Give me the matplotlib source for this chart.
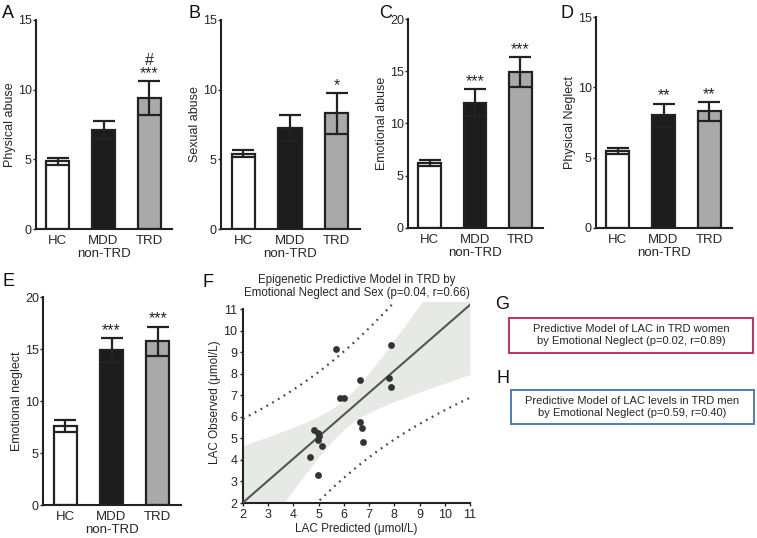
import numpy as np
import matplotlib
matplotlib.use('agg')
import matplotlib.pyplot as plt  # noqa
from matplotlib.patches import Rectangle  # noqa

plt.rcParams['font.family'] = ['Liberation Sans', 'DejaVu Sans']

# Bar panels A-E: mean and SEM per group
groups = ['HC', 'MDD\nnon-TRD', 'TRD']

physical_abuse = [4.85, 7.1, 9.4]
physical_abuse_err = [0.24, 0.65, 1.2]
physical_abuse_marks = ['', '', '#\n***']

sexual_abuse = [5.4, 7.25, 8.3]
sexual_abuse_err = [0.24, 0.9, 1.45]
sexual_abuse_marks = ['', '', '*']

emotional_abuse = [6.2, 12.0, 14.9]
emotional_abuse_err = [0.27, 1.3, 1.45]
emotional_abuse_marks = ['', '***', '***']

physical_neglect = [5.5, 8.0, 8.3]
physical_neglect_err = [0.22, 0.85, 0.68]
physical_neglect_marks = ['', '**', '**']

emotional_neglect = [7.6, 14.9, 15.75]
emotional_neglect_err = [0.55, 1.15, 1.4]
emotional_neglect_marks = ['', '***', '***']

# Panel F: LAC predicted vs observed
lac_predicted = [5.69, 7.86, 6.65, 7.79, 7.86, 5.85, 6.01, 6.62, 6.71,
                 6.74, 4.80, 4.98, 5.00, 4.98, 5.15, 4.67, 4.97]
lac_observed = [9.15, 9.35, 7.71, 7.82, 7.40, 6.89, 6.89, 5.77, 5.46,
                4.84, 5.37, 5.27, 5.12, 4.93, 4.64, 4.13, 3.31]
T_95 = 2.131  # t(0.975, df=15)

W, H = 757, 538
TEXT = '#262626'
EDGE = '#222222'
bar_colors = ['white', '#1c1c1c', '#a9a9a9']


def px_axes(fig, left, right, top, bottom):
    return fig.add_axes([left / W, 1 - bottom / H,
                         (right - left) / W, (bottom - top) / H])


def style_spines(ax, lw=1.5):
    for side in ['top', 'right']:
        ax.spines[side].set_visible(False)
    for side in ['left', 'bottom']:
        ax.spines[side].set_linewidth(lw)
        ax.spines[side].set_color(EDGE)


def bar_panel(ax, values, errors, marks, ylabel, ymax):
    x = np.arange(len(groups))
    ax.bar(x, values, width=0.5, color=bar_colors, edgecolor=EDGE,
           linewidth=1.6, zorder=2)
    ax.errorbar(x, values, yerr=errors, fmt='none', ecolor=EDGE,
                elinewidth=1.6, capsize=8, capthick=1.6, zorder=3)
    for xi, v, e, m in zip(x, values, errors, marks):
        if m:
            ax.text(xi, v + e, m, ha='center', va='bottom',
                    fontsize=11.5, color=TEXT, linespacing=0.85)
    ax.set_xlim(-0.48, 2.5)
    ax.set_ylim(0, ymax)
    ax.set_yticks(np.arange(0, ymax + 1, 5))
    ax.set_xticks(x)
    ax.set_xticklabels(groups)
    ax.tick_params(axis='x', length=0, pad=4, labelsize=9.5, colors=TEXT)
    ax.tick_params(axis='y', length=2, width=1, pad=1, labelsize=9,
                   colors=TEXT)
    ax.set_ylabel(ylabel, fontsize=9, color=TEXT, labelpad=1.5)
    style_spines(ax)


fig = plt.figure(figsize=(W / 100, H / 100), dpi=100)

ax = px_axes(fig, 36, 172, 20, 229)
bar_panel(ax, physical_abuse, physical_abuse_err, physical_abuse_marks,
          'Physical abuse', 15)
ax = px_axes(fig, 221, 360, 20, 229)
bar_panel(ax, sexual_abuse, sexual_abuse_err, sexual_abuse_marks,
          'Sexual abuse', 15)
ax = px_axes(fig, 408, 543, 19, 228)
bar_panel(ax, emotional_abuse, emotional_abuse_err, emotional_abuse_marks,
          'Emotional abuse', 20)
ax = px_axes(fig, 596, 732, 17, 228)
bar_panel(ax, physical_neglect, physical_neglect_err, physical_neglect_marks,
          'Physical Neglect', 15)
ax = px_axes(fig, 43, 181, 297, 505)
bar_panel(ax, emotional_neglect, emotional_neglect_err,
          emotional_neglect_marks, 'Emotional neglect', 20)

# Panel F: regression with 95% confidence and prediction bands
ax = px_axes(fig, 243, 470, 302, 503)
xp = np.array(lac_predicted)
yo = np.array(lac_observed)
slope, intercept = np.polyfit(xp, yo, 1)
n = len(xp)
s = np.sqrt(np.sum((yo - (intercept + slope * xp)) ** 2) / (n - 2))
sxx = np.sum((xp - xp.mean()) ** 2)
grid = np.linspace(2, 11, 200)
fit = intercept + slope * grid
lev = 1.0 / n + (grid - xp.mean()) ** 2 / sxx
ci = T_95 * s * np.sqrt(lev)
pi = T_95 * s * np.sqrt(1 + lev)

ax.fill_between(grid, fit - ci, fit + ci, color='#e7e9e7', lw=0, zorder=1)
ax.plot(grid, fit, color='#555555', lw=1.5, zorder=3)
ax.plot(grid, fit + pi, color='#444444', lw=1.6, ls=(0, (0.8, 2.2)),
        zorder=3)
ax.plot(grid, fit - pi, color='#444444', lw=1.6, ls=(0, (0.8, 2.2)),
        zorder=3)
ax.scatter(xp, yo, s=24, color='#333333', zorder=4, lw=0)

ax.set_xlim(2, 11)
ax.set_ylim(2, 11.33)
ax.set_xticks(range(2, 12))
ax.set_yticks(range(2, 12))
ax.spines['left'].set_bounds(2, 11)
style_spines(ax)
ax.tick_params(length=2, width=1, pad=2, labelsize=9, colors=TEXT)
ax.set_xlabel('LAC Predicted (\u03bcmol/L)', fontsize=8.5, color=TEXT,
              labelpad=2)
ax.set_ylabel('LAC Observed (\u03bcmol/L)', fontsize=8.5, color=TEXT,
              labelpad=2)
ax.set_title('Epigenetic Predictive Model in TRD by\n'
             'Emotional Neglect and Sex (p=0.04, r=0.66)',
             fontsize=8.3, color=TEXT, pad=4, linespacing=1.2)

# Panels G and H: text boxes
boxes = [
    (509, 753, 318, 353, '#c0305f',
     'Predictive Model of LAC in TRD women\n'
     'by Emotional Neglect (p=0.02, r=0.89)'),
    (511, 754, 390, 424, '#4f7bbd',
     'Predictive Model of LAC levels in TRD men\n'
     'by Emotional Neglect (p=0.59, r=0.40)'),
]
for left, right, top, bottom, color, label in boxes:
    fig.add_artist(Rectangle((left / W, 1 - bottom / H),
                             (right - left) / W, (bottom - top) / H,
                             transform=fig.transFigure, fill=False,
                             edgecolor=color, lw=1.4))
    fig.text((left + right) / 2 / W, 1 - (top + bottom) / 2 / H, label,
             ha='center', va='center', fontsize=8, color=TEXT,
             multialignment='center', linespacing=1.25)

# Panel letters
letters = [('A', 2, 5), ('B', 189, 5), ('C', 379, 5), ('D', 561, 5),
           ('E', 2, 273), ('F', 202, 274), ('G', 495, 296), ('H', 496, 370)]
for letter, lx, ly in letters:
    fig.text(lx / W, 1 - ly / H, letter, fontsize=13, color='#111111',
             ha='left', va='top')

fig.savefig('out.png', dpi=100)
